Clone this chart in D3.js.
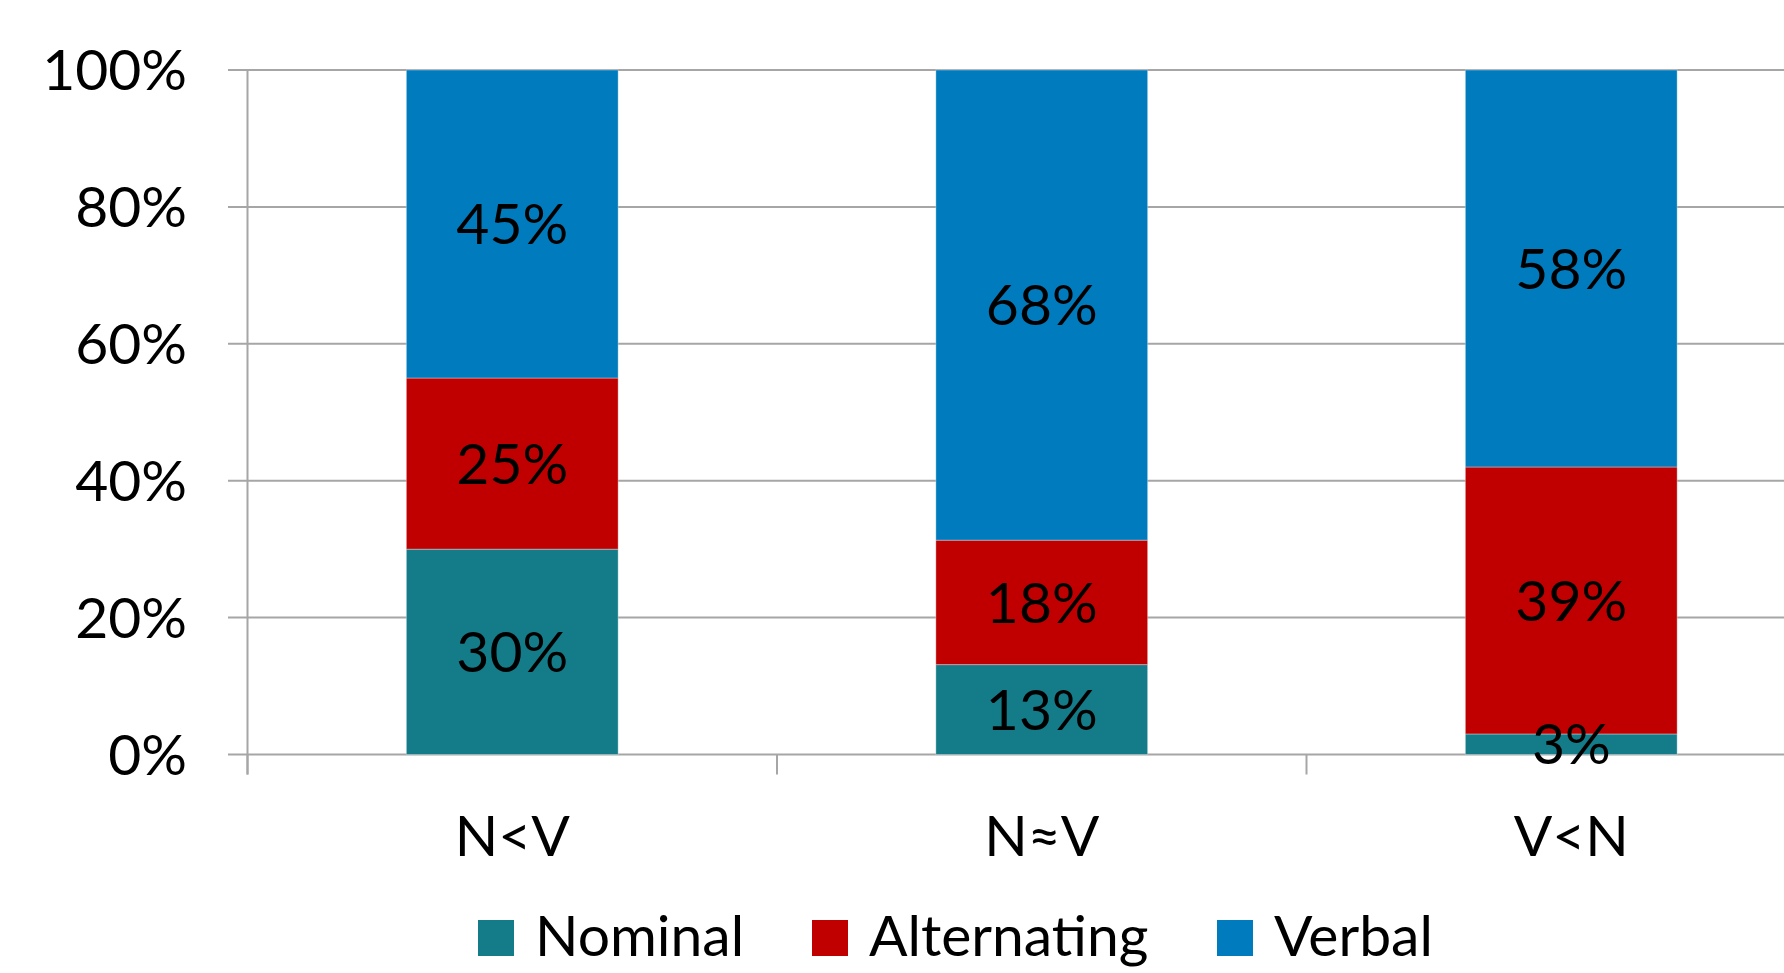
<!DOCTYPE html>
<html>
<head>
<meta charset="utf-8">
<script src="https://cdn.jsdelivr.net/npm/d3@7/dist/d3.min.js"></script>
<style>
  html, body { margin: 0; padding: 0; background: #ffffff; }
  svg { display: block; }
  text { font-family: Lato, "Open Sans", sans-serif; fill: #000000; }
</style>
</head>
<body>
<svg id="chart" width="1784" height="973"></svg>
<script>
// Word-order categories and the share of each predicate type (percent)
const categories = ["N<V", "N≈V", "V<N"];
const seriesNames = ["Nominal", "Alternating", "Verbal"];
const nominal = [30, 13, 3];
const alternating = [25, 18, 39];
const verbal = [45, 68, 58];
const yTicks = [0, 0.2, 0.4, 0.6, 0.8, 1];

(function () {
  const colors = { Nominal: "#147b88", Alternating: "#c00000", Verbal: "#007bbd" };

  const rows = categories.map((c, i) => ({
    category: c,
    Nominal: nominal[i],
    Alternating: alternating[i],
    Verbal: verbal[i]
  }));

  const svg = d3.select("#chart");
  const W = 1784;
  const plotLeft = 247.5, plotTop = 70, plotBottom = 754.5;
  const step = 529.5;
  const fontSize = 57;

  // 100% stacked columns
  const stack = d3.stack().keys(seriesNames).offset(d3.stackOffsetExpand);
  const layers = stack(rows);

  const x = d3.scaleBand()
    .domain(categories)
    .range([plotLeft, plotLeft + step * categories.length])
    .paddingInner(0.6)
    .paddingOuter(0.3);

  const y = d3.scaleLinear().domain([0, 1]).range([plotBottom, plotTop]);

  // horizontal gridlines with short ticks left of the axis
  svg.append("g").selectAll("line")
    .data(yTicks)
    .join("line")
    .attr("x1", plotLeft - 19.5)
    .attr("x2", W)
    .attr("y1", d => y(d))
    .attr("y2", d => y(d))
    .attr("stroke", "#a6a6a6")
    .attr("stroke-width", 2);

  // y-axis tick labels
  svg.append("g").selectAll("text")
    .data(yTicks)
    .join("text")
    .attr("x", 187)
    .attr("y", d => y(d) + fontSize * 0.355)
    .attr("text-anchor", "end")
    .style("font-size", fontSize + "px")
    .text(d => d3.format(".0%")(d));

  // bars
  const layerG = svg.append("g").selectAll("g")
    .data(layers)
    .join("g")
    .attr("fill", d => colors[d.key]);

  layerG.selectAll("rect")
    .data(d => d)
    .join("rect")
    .attr("x", d => x(d.data.category))
    .attr("width", x.bandwidth())
    .attr("y", d => y(d[1]))
    .attr("height", d => y(d[0]) - y(d[1]))
    .attr("stroke", "#ffffff")
    .attr("stroke-opacity", 0.35)
    .attr("stroke-width", 1);

  // value labels centred in each segment
  const labelG = svg.append("g");
  layers.forEach(layer => {
    labelG.selectAll(null)
      .data(layer)
      .join("text")
      .attr("x", d => x(d.data.category) + x.bandwidth() / 2)
      .attr("y", d => (y(d[0]) + y(d[1])) / 2 + fontSize * 0.355)
      .attr("text-anchor", "middle")
      .style("font-size", fontSize + "px")
      .text(d => d.data[layer.key] + "%");
  });

  // y axis line
  svg.append("line")
    .attr("x1", plotLeft).attr("x2", plotLeft)
    .attr("y1", plotTop).attr("y2", plotBottom + 20)
    .attr("stroke", "#a6a6a6")
    .attr("stroke-width", 2);

  // x-axis category separators
  const bounds = d3.range(categories.length + 1).map(i => plotLeft + i * step);
  svg.append("g").selectAll("line")
    .data(bounds)
    .join("line")
    .attr("x1", d => d).attr("x2", d => d)
    .attr("y1", plotBottom).attr("y2", plotBottom + 20)
    .attr("stroke", "#a6a6a6")
    .attr("stroke-width", 2);

  // category labels
  svg.append("g").selectAll("text")
    .data(categories)
    .join("text")
    .attr("x", d => x(d) + x.bandwidth() / 2)
    .attr("y", 856)
    .attr("text-anchor", "middle")
    .style("font-size", fontSize + "px")
    .text(d => d);

  // legend
  const legendX = [478, 812, 1217];
  const legend = svg.append("g").selectAll("g")
    .data(seriesNames)
    .join("g")
    .attr("transform", (d, i) => `translate(${legendX[i]},0)`);
  legend.append("rect")
    .attr("x", 0).attr("y", 920)
    .attr("width", 36).attr("height", 36)
    .attr("fill", d => colors[d]);
  legend.append("text")
    .attr("x", 57)
    .attr("y", 956)
    .style("font-size", fontSize + "px")
    .text(d => d);
})();
</script>
</body>
</html>
